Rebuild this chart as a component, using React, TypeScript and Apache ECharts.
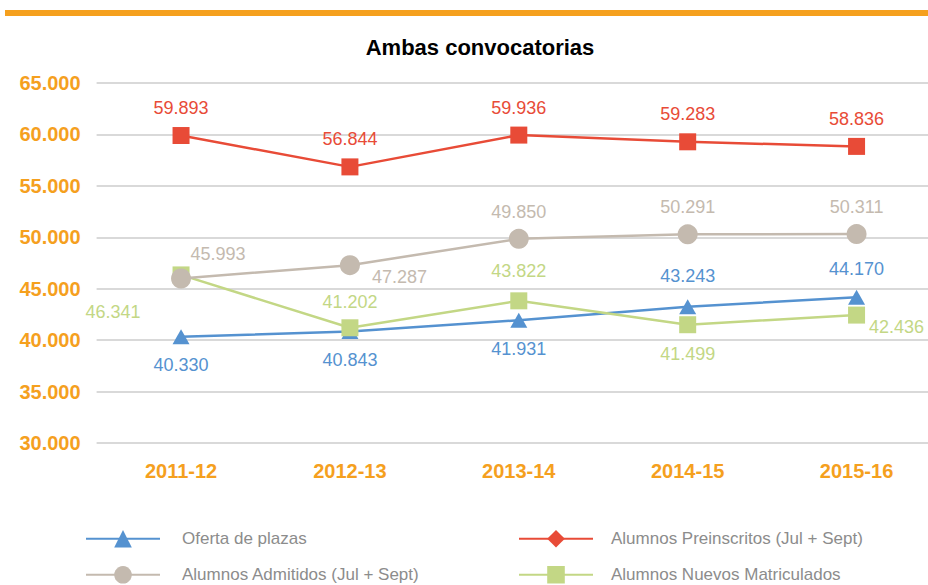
import React, { useEffect, useRef } from "react";
import * as echarts from "echarts";

const categories = ["2011-12", "2012-13", "2013-14", "2014-15", "2015-16"];
const ofertaPlazas = [40330, 40843, 41931, 43243, 44170];
const preinscritos = [59893, 56844, 59936, 59283, 58836];
const admitidos = [45993, 47287, 49850, 50291, 50311];
const matriculados = [46341, 41202, 43822, 41499, 42436];
const yTicks = [30000, 35000, 40000, 45000, 50000, 55000, 60000, 65000];

const seriesNames = [
  "Oferta de plazas",
  "Alumnos Preinscritos (Jul + Sept)",
  "Alumnos Admitidos (Jul + Sept)",
  "Alumnos Nuevos Matriculados",
];

const FONT = "'Liberation Sans', Arial, sans-serif";
const ORANGE = "#F5A01E";
const BLUE = "#5592D0";
const RED = "#E84B37";
const GRAY = "#C4BAAF";
const GREEN = "#C3D785";

const fmt = (v: number) => {
  const s = Math.round(v).toString();
  return s.slice(0, s.length - 3) + "." + s.slice(s.length - 3);
};

const labelBase = (color: string) => ({
  show: true,
  color,
  fontFamily: FONT,
  fontSize: 18,
  formatter: (p: any) => fmt(p.value),
});

export default function App() {
  const ref = useRef<HTMLDivElement>(null);
  useEffect(() => {
    document.body.style.margin = "0";
    document.body.style.overflow = "hidden";
    if (!ref.current) return;
    const chart = echarts.init(ref.current, undefined, { renderer: "svg" });

    const blueLabelPos = ["bottom", "bottom", "bottom", "top", "top"];
    const blueDist = [12, 12, 12, 14, 12];
    const grayLabel: any[] = [
      { position: "top", offset: [37, 2] },
      { position: "right", offset: [4, 12] },
      { position: "top" },
      { position: "top" },
      { position: "top" },
    ];
    const greenLabel: any[] = [
      { position: "left", offset: [-24, 37] },
      { position: "top" },
      { position: "top", distance: 12 },
      { position: "bottom", distance: 12 },
      { position: "right", offset: [-4, 12] },
    ];

    const mkLegend = (name: string, left: number, top: number, gap: number) => ({
      show: true,
      data: [name],
      left,
      top,
      padding: 0,
      orient: "horizontal",
      itemWidth: 74,
      itemHeight: 22,
      textStyle: {
        color: "#8C8C8C",
        fontFamily: FONT,
        fontSize: 17,
        padding: [0, 0, 0, gap],
      },
      selectedMode: false,
    });

    chart.setOption({
      animation: false,
      backgroundColor: "#ffffff",
      title: {
        text: "Ambas convocatorias",
        left: 475,
        top: 31,
        textAlign: "center",
        textStyle: { fontFamily: FONT, fontSize: 22, fontWeight: "bold", color: "#000" },
      },
      graphic: [
        {
          type: "rect",
          shape: { x: 5, y: 10, width: 940, height: 6 },
          style: { fill: "#F5A01E" },
          silent: true,
        },
      ],
      legend: [
        mkLegend(seriesNames[0], 85, 530, 17),
        mkLegend(seriesNames[1], 518, 530, 13),
        mkLegend(seriesNames[2], 85, 566, 17),
        mkLegend(seriesNames[3], 518, 566, 13),
      ],
      grid: { left: 96.6, right: 0, top: 83, bottom: 142, containLabel: false },
      xAxis: {
        type: "category",
        data: categories,
        boundaryGap: true,
        axisLine: { show: false },
        axisTick: { show: false },
        axisLabel: {
          color: ORANGE,
          fontFamily: FONT,
          fontSize: 20,
          fontWeight: "bold",
          margin: 18,
        },
      },
      yAxis: {
        type: "value",
        min: yTicks[0],
        max: yTicks[yTicks.length - 1],
        interval: 5000,
        axisLine: { show: false },
        axisTick: { show: false },
        splitLine: { lineStyle: { color: "#D9D9D9", width: 2 } },
        axisLabel: {
          color: ORANGE,
          fontFamily: FONT,
          fontSize: 20,
          fontWeight: "bold",
          margin: 16,
          formatter: (v: number) => fmt(v),
        },
      },
      series: [
        {
          name: seriesNames[0],
          type: "line",
          z: 2,
          data: ofertaPlazas.map((v, i) => ({
            value: v,
            label: { position: blueLabelPos[i], distance: blueDist[i] },
          })),
          color: BLUE,
          symbol: "triangle",
          symbolSize: [17, 15],
          lineStyle: { width: 2.5, color: BLUE },
          itemStyle: { color: BLUE },
          label: labelBase(BLUE),
        },
        {
          name: seriesNames[1],
          type: "line",
          z: 5,
          data: preinscritos.map((v) => ({ value: v, symbol: "rect", symbolSize: 17 })),
          color: RED,
          symbol: "diamond",
          symbolSize: [20, 22],
          lineStyle: { width: 2.5, color: RED },
          itemStyle: { color: RED },
          label: { ...labelBase(RED), position: "top", distance: 10 },
        },
        {
          name: seriesNames[2],
          type: "line",
          z: 4,
          data: admitidos.map((v, i) => ({ value: v, label: grayLabel[i] })),
          color: GRAY,
          symbol: "circle",
          symbolSize: 20,
          lineStyle: { width: 2.5, color: GRAY },
          itemStyle: { color: GRAY },
          label: { ...labelBase(GRAY), distance: 8 },
        },
        {
          name: seriesNames[3],
          type: "line",
          z: 3,
          data: matriculados.map((v, i) => ({ value: v, label: greenLabel[i] })),
          color: GREEN,
          symbol: "rect",
          symbolSize: 17,
          lineStyle: { width: 2.5, color: GREEN },
          itemStyle: { color: GREEN },
          label: { ...labelBase(GREEN), distance: 8 },
        },
      ],
    });
    return () => chart.dispose();
  }, []);
  return (
    <div style={{ width: 928, height: 585, overflow: "hidden" }}>
      <div ref={ref} style={{ width: 941, height: 585 }} />
    </div>
  );
}
